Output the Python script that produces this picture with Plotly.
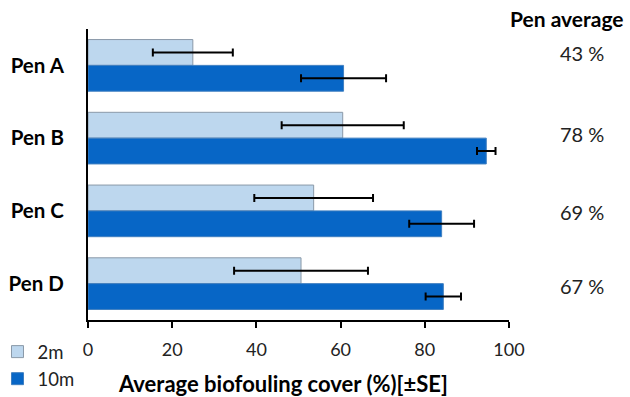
import plotly.graph_objects as go

pens = ["Pen A", "Pen B", "Pen C", "Pen D"]
cover_2m = [24.9, 60.5, 53.6, 50.6]
se_2m = [9.5, 14.5, 14.1, 15.9]
cover_10m = [60.7, 94.6, 84.0, 84.4]
se_10m = [10.1, 2.2, 7.7, 4.2]
pen_average = [43, 78, 69, 67]
x_ticks = [0, 20, 40, 60, 80, 100]

FONT = "Lato"
light = "#BDD7EE"
dark = "#0766C6"

fig = go.Figure()
fig.add_trace(go.Bar(
    y=pens, x=cover_2m, orientation="h", name="2m", legendgroup="a",
    marker=dict(color=light, line=dict(color="#8a99a8", width=1)),
    error_x=dict(type="data", array=se_2m, color="black", thickness=2, width=4),
))
fig.add_trace(go.Bar(
    y=pens, x=cover_10m, orientation="h", name="10m", legendgroup="b",
    marker=dict(color=dark, line=dict(color="#3f7fc0", width=1)),
    error_x=dict(type="data", array=se_10m, color="black", thickness=2, width=4),
))

shifts = [12, 4, -1, -2]
for p, v, s in zip(pens, pen_average, shifts):
    fig.add_annotation(x=1.174, xref="paper", xanchor="center", y=p, yref="y",
                       yanchor="middle", text=f"{v} %",
                       showarrow=False, yshift=s,
                       font=dict(family=FONT, size=20, color="#222"))
fig.add_annotation(x=1.138, xref="paper", xanchor="center", y=1.0, yref="paper",
                   yanchor="middle", text="<b>Pen average</b>", showarrow=False,
                   yshift=11, font=dict(family=FONT, size=21, color="black"))
# x-axis title (offset left of the plot centre as in the reference)
fig.add_annotation(x=0.462, xref="paper", xanchor="center", y=0, yref="paper",
                   yanchor="middle", yshift=-63, showarrow=False,
                   text="<b>Average biofouling cover (%)[±SE]</b>",
                   font=dict(family=FONT, size=22, color="black"))

fig.update_layout(
    width=630, height=397,
    margin=dict(l=87.5, r=121.3, t=29, b=77, autoexpand=False),
    plot_bgcolor="white", paper_bgcolor="white",
    barmode="group", bargap=0.29, bargroupgap=0,
    font=dict(family=FONT, color="black"),
    showlegend=True,
    legend=dict(x=-0.215, xanchor="left", y=-0.045, yanchor="top",
                traceorder="normal", tracegroupgap=10,
                itemwidth=30,
                font=dict(family=FONT, size=18.5, color="#222"),
                bgcolor="rgba(0,0,0,0)"),
    xaxis=dict(range=[0, 100], tickvals=x_ticks, showgrid=False, zeroline=False,
               automargin=False,
               showline=True, linecolor="black", linewidth=2,
               ticks="outside", ticklen=6, tickwidth=2, tickcolor="black",
               ticklabelstandoff=6,
               tickfont=dict(family=FONT, size=18, color="#222")),
    yaxis=dict(autorange="reversed", showgrid=False, zeroline=False,
               automargin=False,
               showline=True, linecolor="black", linewidth=2, ticks="",
               ticklabelstandoff=18,
               tickfont=dict(family=FONT, size=20.5, color="black"),
               tickprefix="<b>", ticksuffix="</b>"),
)

fig.write_html("out.html", config={"displayModeBar": False},
               post_script="document.body.style.margin='0';document.body.style.overflow='hidden';")
